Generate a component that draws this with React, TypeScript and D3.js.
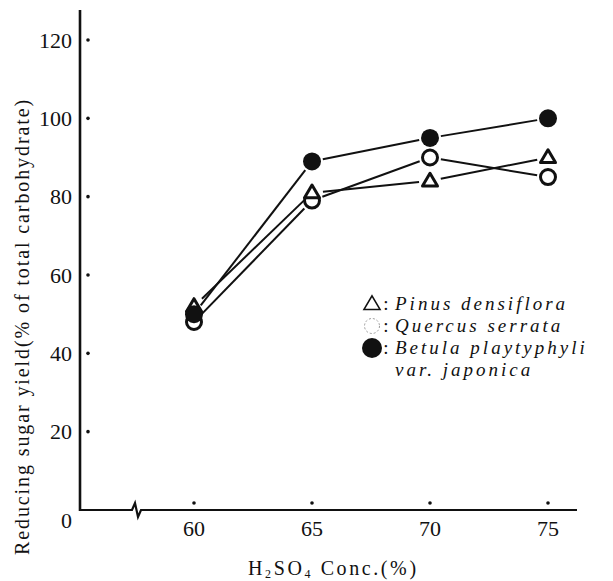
import React from "react";
import * as d3 from "d3";

const concentrations = [60, 65, 70, 75];
const pinus = [52, 81, 84, 90];
const quercus = [48, 79, 90, 85];
const betula = [50, 89, 95, 100];
const yTicks = [0, 20, 40, 60, 80, 100, 120];
const xTicks = [60, 65, 70, 75];

const W = 613;
const H = 581;
const INK = "#111";
const SERIF = "Liberation Serif";

function trianglePath(cx: number, cy: number, s: number) {
  const h = s * 0.85;
  return `M${cx},${cy - h * 0.6} L${cx + s / 2},${cy + h * 0.4} L${cx - s / 2},${cy + h * 0.4} Z`;
}

export default function App() {
  const x = d3.scaleLinear().domain([60, 75]).range([194, 548]);
  const y = d3.scaleLinear().domain([0, 120]).range([510, 40]);

  const gap = 11;
  const segs = (vals: number[]) => {
    const out: { x1: number; y1: number; x2: number; y2: number }[] = [];
    for (let i = 0; i < vals.length - 1; i++) {
      const ax = x(concentrations[i]), ay = y(vals[i]);
      const bx = x(concentrations[i + 1]), by = y(vals[i + 1]);
      const dx = bx - ax, dy = by - ay;
      const L = Math.hypot(dx, dy);
      const ux = dx / L, uy = dy / L;
      out.push({ x1: ax + ux * gap, y1: ay + uy * gap, x2: bx - ux * gap, y2: by - uy * gap });
    }
    return out;
  };

  const axisX0 = 80;
  const baseY = y(0);

  const legendRows = [
    { t: "Pinus densiflora", y: 304 },
    { t: "Quercus serrata", y: 326 },
    { t: "Betula playtyphyli", y: 348 },
  ];

  const legendStyle = { fontFamily: SERIF, fontStyle: "italic" as const, letterSpacing: "3px" };

  return (
    <svg width={W} height={H} style={{ display: "block", position: "absolute", left: 0, top: 0, background: "#fff", fontFamily: SERIF }}>
      {/* axes */}
      <line x1={axisX0} y1={10} x2={axisX0} y2={baseY + 1} stroke={INK} strokeWidth={2.6} />
      <path
        d={`M${axisX0},${baseY} L132,${baseY} L135,${baseY - 7} L138,${baseY + 7} L141,${baseY} L577,${baseY}`}
        fill="none"
        stroke={INK}
        strokeWidth={2.2}
      />
      {/* y ticks */}
      {yTicks.map((t) => (
        <g key={"y" + t}>
          {t > 0 && <circle cx={88} cy={y(t)} r={1.8} fill={INK} />}
          <text x={72} y={(t === 0 ? y(t) + 10 : y(t)) + 7.5} textAnchor="end" style={{ fontFamily: SERIF }} fontSize={22} fill={INK}>
            {t}
          </text>
        </g>
      ))}
      {/* x ticks */}
      {xTicks.map((t) => (
        <g key={"x" + t}>
          <circle cx={x(t)} cy={503} r={1.8} fill={INK} />
          <text x={x(t)} y={536} textAnchor="middle" style={{ fontFamily: SERIF }} fontSize={22} fill={INK}>
            {t}
          </text>
        </g>
      ))}
      {/* axis titles */}
      <text x={248} y={575} style={{ fontFamily: SERIF, letterSpacing: "2.6px" }} fontSize={20} fill={INK}>
        H<tspan fontSize={12} dy={3}>2</tspan>
        <tspan dy={-3}>SO</tspan>
        <tspan fontSize={12} dy={3}>4</tspan>
        <tspan dy={-3}>{" Conc.(%)"}</tspan>
      </text>
      <text transform="translate(29,555) rotate(-90)" style={{ fontFamily: SERIF, letterSpacing: "1.9px" }} fontSize={20} fill={INK}>
        Reducing sugar yield(% of total carbohydrate)
      </text>
      {/* lines */}
      {[pinus, quercus, betula].map((vals, si) =>
        segs(vals).map((s, i) => (
          <line key={`l${si}-${i}`} x1={s.x1} y1={s.y1} x2={s.x2} y2={s.y2} stroke={INK} strokeWidth={2} />
        ))
      )}
      {/* markers */}
      {quercus.map((v, i) => (
        <circle key={"q" + i} cx={x(concentrations[i])} cy={y(v)} r={7.5} fill="#fff" stroke={INK} strokeWidth={3} />
      ))}
      {pinus.map((v, i) => (
        <path key={"p" + i} d={trianglePath(x(concentrations[i]), y(v), 15)} fill="#fff" stroke={INK} strokeWidth={3} strokeLinejoin="round" />
      ))}
      {betula.map((v, i) => (
        <circle key={"b" + i} cx={x(concentrations[i])} cy={y(v)} r={9} fill={INK} />
      ))}
      {/* legend */}
      <path d={trianglePath(372, 304, 16)} fill="#fff" stroke={INK} strokeWidth={1.6} />
      <circle cx={372} cy={326} r={7.5} fill="none" stroke="#999" strokeWidth={1} strokeDasharray="2 2" />
      <circle cx={372} cy={348} r={10} fill={INK} />
      {legendRows.map((d) => (
        <g key={d.t}>
          <text x={386} y={d.y + 6} style={{ fontFamily: SERIF }} fontSize={19} fill={INK} textAnchor="middle">
            :
          </text>
          <text x={395} y={d.y + 6} style={legendStyle} fontSize={19} fill={INK}>
            {d.t}
          </text>
        </g>
      ))}
      <text x={395} y={376} style={legendStyle} fontSize={19} fill={INK}>
        var. japonica
      </text>
    </svg>
  );
}
